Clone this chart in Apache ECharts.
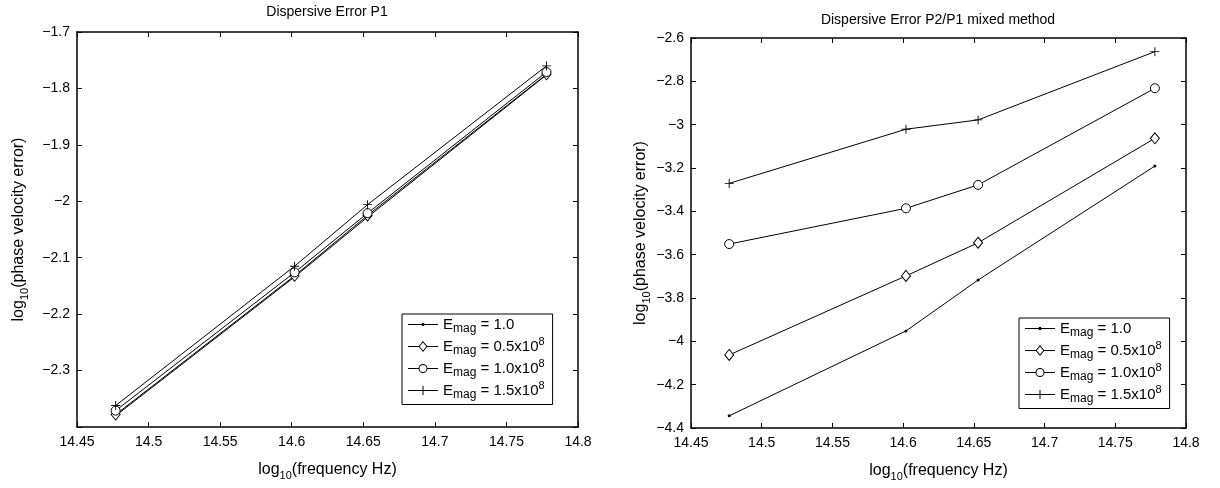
<!DOCTYPE html>
<html>
<head>
<meta charset="utf-8">
<script src="https://cdn.jsdelivr.net/npm/echarts@6/dist/echarts.min.js"></script>
<style>
  html, body { margin: 0; padding: 0; background: #fff; }
  #chart { width: 1220px; height: 488px; }
</style>
</head>
<body>
<div id="chart"></div>
<script>
// log10 of the four frequencies
const freqLog = [14.477, 14.602, 14.653, 14.778];

// Dispersive Error P1
const p1Emag1 = [-2.380, -2.134, -2.028, -1.776];
const p1Emag05 = [-2.378, -2.132, -2.025, -1.775];
const p1Emag10 = [-2.371, -2.126, -2.021, -1.771];
const p1Emag15 = [-2.362, -2.115, -2.006, -1.760];

// Dispersive Error P2/P1 mixed method
const p2Emag1 = [-4.344, -3.952, -3.717, -3.191];
const p2Emag05 = [-4.063, -3.698, -3.545, -3.063];
const p2Emag10 = [-3.551, -3.386, -3.278, -2.832];
const p2Emag15 = [-3.271, -3.021, -2.978, -2.663];

const seriesNames = ['e1', 'e05', 'e10', 'e15'];
const legendText = {
  e1: '{e|E}{sub|mag}{t| = 1.0}',
  e05: '{e|E}{sub|mag}{t| = 0.5x10}{sup|8}',
  e10: '{e|E}{sub|mag}{t| = 1.0x10}{sup|8}',
  e15: '{e|E}{sub|mag}{t| = 1.5x10}{sup|8}'
};

const FONT = 'Liberation Sans, Arial, sans-serif';
const plusPath = 'path://M4.5,0h1v4.5h4.5v1h-4.5v4.5h-1v-4.5h-4.5v-1h4.5z';

// markers on the lines
const markers = {
  e1: { symbol: 'circle', size: 3, fill: '#000', border: 0 },
  e05: { symbol: 'path://M5,0L10,6L5,12L0,6Z', size: [9, 11], fill: '#fff', border: 1 },
  e10: { symbol: 'circle', size: 9, fill: '#fff', border: 1 },
  e15: { symbol: plusPath, size: 9, fill: '#000', border: 0 }
};

// legend icons: line + marker drawn as one filled shape
const legendIcons = {
  e1: 'path://M0,5.5H30V6.5H0Z M13.8,4.6H16.2V7.4H13.8Z',
  e05: 'path://M0,5.5H11V6.5H0Z M19,5.5H30V6.5H19Z M15,0.5L19.5,6L15,11.5L10.5,6Z M15,2L11.7,6L15,10L18.3,6Z',
  e10: 'path://M0,5.5H11V6.5H0Z M19,5.5H30V6.5H19Z M15,1.5A4.5,4.5,0,1,1,15,10.5A4.5,4.5,0,1,1,15,1.5Z M15,2.5A3.5,3.5,0,1,0,15,9.5A3.5,3.5,0,1,0,15,2.5Z',
  e15: 'path://M0,5.5H30V6.5H0Z M14.5,1.5H15.5V10.5H14.5Z'
};

const fmtNum = v => String(+v.toFixed(2)).replace('-', '\u2212');

const myChart = echarts.init(document.getElementById('chart'));

const grids = [
  { left: 77, right: 642, top: 32, bottom: 61 },
  { left: 691, right: 34, top: 38, bottom: 60 }
];

const nameRich = {
  n: { fontSize: 16, fontFamily: FONT, color: '#000', lineHeight: 22 },
  s: { fontSize: 11, fontFamily: FONT, color: '#000', verticalAlign: 'bottom', lineHeight: 10 }
};

function xAxes(gridIndex) {
  return [
    {
      gridIndex, type: 'value', min: 14.45, max: 14.8, interval: 0.05, position: 'bottom',
      name: '{n|log}{s|10}{n|(frequency Hz)}', nameLocation: 'middle', nameGap: 32,
      nameTextStyle: { rich: nameRich },
      axisLine: { show: true, onZero: false, lineStyle: { color: '#000', width: 1.5 } },
      axisTick: { show: true, inside: true, length: 5, lineStyle: { color: '#000' } },
      axisLabel: { color: '#000', fontSize: 14, fontFamily: FONT, margin: 8, formatter: v => fmtNum(v) },
      splitLine: { show: false }
    },
    {
      gridIndex, type: 'value', min: 14.45, max: 14.8, interval: 0.05, position: 'top',
      axisLine: { show: true, onZero: false, lineStyle: { color: '#000', width: 1.5 } },
      axisTick: { show: true, inside: true, length: 5, lineStyle: { color: '#000' } },
      axisLabel: { show: false },
      splitLine: { show: false }
    }
  ];
}

function yAxes(gridIndex, min, max, interval, hideMin, nameGap) {
  return [
    {
      gridIndex, type: 'value', min, max, interval, position: 'left',
      name: '{n|log}{s|10}{n|(phase velocity error)}', nameLocation: 'middle', nameGap, nameRotate: 90,
      nameTextStyle: { rich: nameRich },
      axisLine: { show: true, onZero: false, lineStyle: { color: '#000', width: 1.5 } },
      axisTick: { show: true, inside: true, length: 5, lineStyle: { color: '#000' } },
      axisLabel: {
        color: '#000', fontSize: 14, fontFamily: FONT, margin: 7,
        formatter: v => (hideMin && Math.abs(v - min) < 1e-9) ? '' : fmtNum(v)
      },
      splitLine: { show: false }
    },
    {
      gridIndex, type: 'value', min, max, interval, position: 'right',
      axisLine: { show: true, onZero: false, lineStyle: { color: '#000', width: 1.5 } },
      axisTick: { show: true, inside: true, length: 5, lineStyle: { color: '#000' } },
      axisLabel: { show: false },
      splitLine: { show: false }
    }
  ];
}

function makeSeries(name, values, axisIndex) {
  const m = markers[name];
  return {
    name, type: 'line',
    xAxisIndex: axisIndex, yAxisIndex: axisIndex,
    data: freqLog.map((x, i) => [x, values[i]]),
    symbol: m.symbol,
    symbolSize: m.size,
    showAllSymbol: true,
    lineStyle: { color: '#000', width: 1 },
    itemStyle: { color: m.fill, borderColor: '#000', borderWidth: m.border },
    emphasis: { disabled: true },
    z: 3
  };
}

const legendRich = {
  e: { fontSize: 15, fontFamily: FONT, color: '#000', lineHeight: 20 },
  t: { fontSize: 15, fontFamily: FONT, color: '#000', lineHeight: 20 },
  sub: { fontSize: 12, fontFamily: FONT, color: '#000', verticalAlign: 'bottom', lineHeight: 9 },
  sup: { fontSize: 11, fontFamily: FONT, color: '#000', verticalAlign: 'top', lineHeight: 8 }
};

function makeLegend(left, top) {
  return {
    left, top, orient: 'vertical',
    data: seriesNames.map(n => ({
      name: n,
      icon: legendIcons[n],
      itemStyle: { color: '#000', borderWidth: 0 }
    })),
    selectedMode: false,
    itemWidth: 30, itemHeight: 12, itemGap: 2,
    padding: [3, 8, 4, 6],
    borderColor: '#000', borderWidth: 1, backgroundColor: '#fff',
    formatter: n => legendText[n],
    textStyle: { rich: legendRich, color: '#000' }
  };
}

const options = {
  animation: false,
  title: [
    { text: 'Dispersive Error P1', left: 327, top: 5, padding: 0, textAlign: 'center',
      textStyle: { fontSize: 14, fontWeight: 'normal', fontFamily: FONT, color: '#000' } },
    { text: 'Dispersive Error P2/P1 mixed method', left: 938, top: 13, padding: 0, textAlign: 'center',
      textStyle: { fontSize: 14, fontWeight: 'normal', fontFamily: FONT, color: '#000' } }
  ],
  grid: grids,
  xAxis: [...xAxes(0), ...xAxes(1)],
  yAxis: [...yAxes(0, -2.4, -1.7, 0.1, true, 47), ...yAxes(1, -4.4, -2.6, 0.2, false, 39)],
  legend: [makeLegend(402, 314), makeLegend(1019, 318)],
  series: [
    makeSeries('e1', p1Emag1, 0),
    makeSeries('e05', p1Emag05, 0),
    makeSeries('e10', p1Emag10, 0),
    makeSeries('e15', p1Emag15, 0),
    makeSeries('e1', p2Emag1, 2),
    makeSeries('e05', p2Emag05, 2),
    makeSeries('e10', p2Emag10, 2),
    makeSeries('e15', p2Emag15, 2)
  ]
};

myChart.setOption(options);
</script>
</body>
</html>
